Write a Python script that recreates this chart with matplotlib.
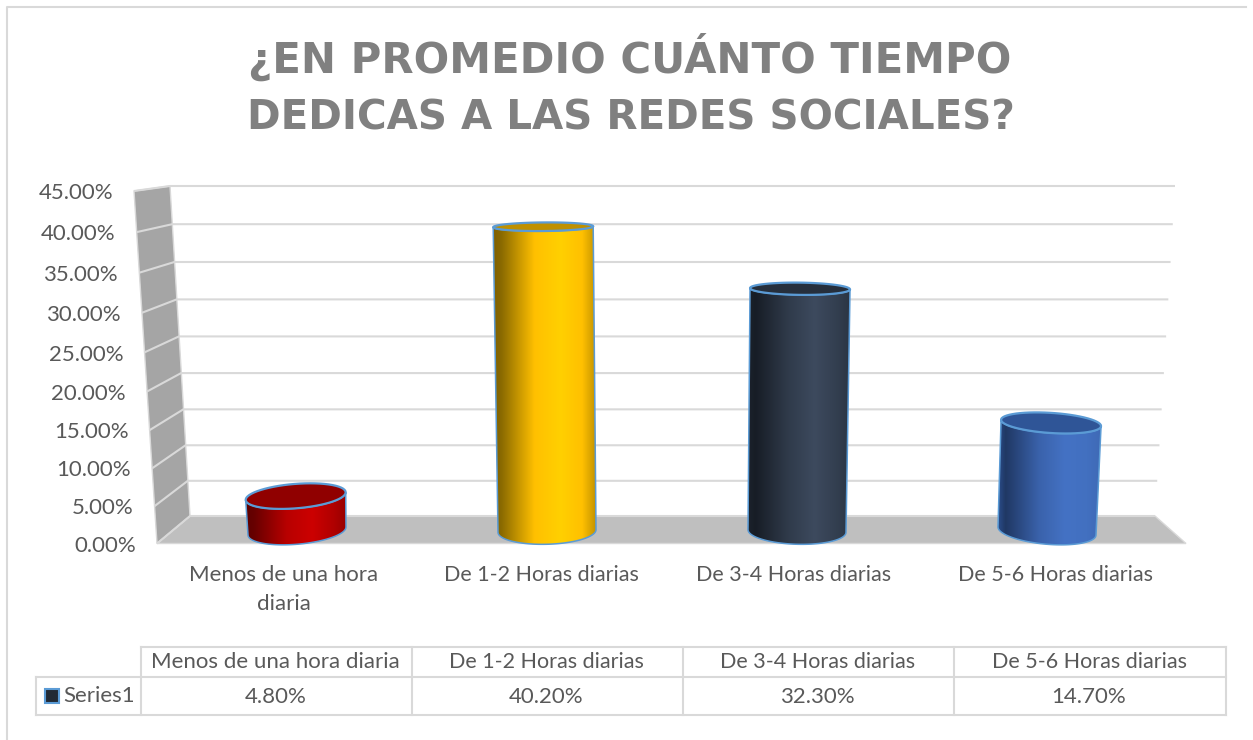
#!/usr/bin/env python

import numpy as np
import matplotlib
matplotlib.use('Agg')
import matplotlib.pyplot as plt
from matplotlib.colors import LinearSegmentedColormap
from matplotlib.patches import Polygon, PathPatch
from matplotlib.path import Path

plt.rcParams['font.family'] = ['Lato', 'DejaVu Sans']

categories = ['Menos de una hora diaria', 'De 1-2 Horas diarias', 'De 3-4 Horas diarias', 'De 5-6 Horas diarias']
axis_labels = ['Menos de una hora\ndiaria', 'De 1-2 Horas diarias', 'De 3-4 Horas diarias', 'De 5-6 Horas diarias']
values = [4.8, 40.2, 32.3, 14.7]
ticks = [0, 5, 10, 15, 20, 25, 30, 35, 40, 45]
title_lines = ['¿EN PROMEDIO CUÁNTO TIEMPO', 'DEDICAS A LAS REDES SOCIALES?']

stops = [0, 0.08, 0.4, 0.65, 0.86, 1]
bar_colors = [
    ['#5e0000', '#680000', '#b80000', '#cc0000', '#b00000', '#940000'],
    ['#7f6000', '#8a6a00', '#ffc000', '#ffd000', '#ffc000', '#bf9000'],
    ['#1c232e', '#171d26', '#303b4b', '#3d4a5e', '#333f50', '#2a3443'],
    ['#2c5090', '#203864', '#3a62ab', '#4472c4', '#4270c0', '#3f69b5'],
]
lid_colors = ['#900000', '#bf9000', '#262f3c', '#2f5597']
EDGE = '#5b9bd5'
GRID = '#d9d9d9'
TXT = '#595959'
FS = 16
FS_CAT = [16, 15.5, 15.5, 15.5]

fig = plt.figure(figsize=(12.53, 7.40), dpi=100)
ax = fig.add_axes([0, 0, 1, 1])
ax.set_xlim(0, 1253)
ax.set_ylim(740, 0)
ax.axis('off')


# perspective scale, value -> pixel row
def persp(v, y0, y45, c=0.05):
    t = np.asarray(v) / 45.0
    return y0 - (y0 - y45) * t * (1 - c) / (1 - c * t)


def y_back(v):
    return persp(v, 516, 186, 0.045)


def y_front(v):
    return persp(v, 543.5, 191, 0.054)


def y_mid(v):
    return persp(v, 531, 188.5, 0.05)


def x_wall_front(v):
    return 157 - 23 * np.asarray(v) / 45.0


def x_wall_back(v):
    return 190 - 20 * np.asarray(v) / 45.0


def x_right(v):
    return 1155 + 20 * np.asarray(v) / 45.0


def x_cat(i):
    return 297 + 250 * i


def half_h(y):
    return 4.3 + 0.0295 * (y - 227)


def ellipse(cx, cy, a, start, stop, n=60):
    t = np.linspace(start, stop, n)
    b = half_h(cy)
    s = 0.00022 * (cx - 672) * b / 13.5
    return np.column_stack([cx + a * np.cos(t), cy + b * np.sin(t) + s * a * np.cos(t)])


# floor and side wall
ax.add_patch(Polygon([(x_wall_front(0), y_front(0)), (1186, y_front(0)), (x_right(0), y_back(0)), (x_wall_back(0), y_back(0))],
                     fc='#bfbfbf', ec='#d9d9d9', lw=1, zorder=1))
ax.add_patch(Polygon([(x_wall_front(0), y_front(0)), (x_wall_front(45), y_front(45)), (x_wall_back(45), y_back(45)), (x_wall_back(0), y_back(0))],
                     fc='#a5a5a5', ec='#d9d9d9', lw=1, zorder=1))

for v in ticks:
    ax.plot([x_wall_front(v), x_wall_back(v), x_right(v)], [y_front(v), y_back(v), y_back(v)],
            color=GRID, lw=1.5, zorder=2, solid_capstyle='butt')
    ax.text(x_wall_front(v) - 21, y_front(v) + 2, f'{v:.2f}%', ha='right', va='center', fontsize=FS, color=TXT)

# cylinders
for i, v in enumerate(values):
    xb = x_cat(i)
    top_y = float(y_mid(v))
    xt = xb + 1e-4 * (531 - top_y) * (xb - 672)
    body = np.vstack([ellipse(xt, top_y, 50, np.pi, 0), ellipse(xb, 531, 49, 0, np.pi)])
    cmap = LinearSegmentedColormap.from_list(f'b{i}', list(zip(stops, bar_colors[i])))
    grad = np.linspace(0, 1, 256).reshape(1, -1)
    im = ax.imshow(grad, cmap=cmap, extent=[min(xt, xb) - 50, max(xt, xb) + 50, 545, top_y - 15],
                   aspect='auto', zorder=4)
    clip = PathPatch(Path(body), transform=ax.transData, fc='none', ec='none')
    ax.add_patch(clip)
    im.set_clip_path(clip)
    ax.add_patch(Polygon(body, closed=True, fc='none', ec=EDGE, lw=1.1, zorder=5))
    ax.add_patch(Polygon(ellipse(xt, top_y, 50, 0, 2 * np.pi), closed=True, fc=lid_colors[i], ec=EDGE, lw=1.6, zorder=6))

# imshow resets limits
ax.set_xlim(0, 1253)
ax.set_ylim(740, 0)

# outer frame
ax.plot([7, 7, 1246], [740, 7, 7], color=GRID, lw=1.5)

# title
ax.text(629.5, 73, title_lines[0], ha='center', va='baseline', fontsize=30.2, fontweight='bold', color='#808080', family='DejaVu Sans')
ax.text(630.5, 130, title_lines[1], ha='center', va='baseline', fontsize=29.1, fontweight='bold', color='#808080', family='DejaVu Sans')

# category labels
label_x = [284, 541, 794, 1056]
for lx, lab, fs in zip(label_x, axis_labels, FS_CAT):
    first, _, second = lab.partition('\n')
    ax.text(lx, 575, first, ha='center', va='center', fontsize=fs, color=TXT)
    if second:
        ax.text(lx, 604, second, ha='center', va='center', fontsize=fs, color=TXT)

# data table
col_x = [141, 412, 683, 954, 1226]
row_y = [647, 677, 715]
for x in col_x:
    ax.plot([x, x], [row_y[0], row_y[2]], color=GRID, lw=1.5)
ax.plot([col_x[0], col_x[-1]], [row_y[0], row_y[0]], color=GRID, lw=1.5)
ax.plot([36, col_x[-1]], [row_y[1], row_y[1]], color=GRID, lw=1.5)
ax.plot([36, col_x[-1]], [row_y[2], row_y[2]], color=GRID, lw=1.5)
ax.plot([36, 36], [row_y[1], row_y[2]], color=GRID, lw=1.5)
for j in range(4):
    xc = (col_x[j] + col_x[j + 1]) / 2 - 1
    ax.text(xc, 662, categories[j], ha='center', va='center', fontsize=FS_CAT[j], color=TXT)
    ax.text(xc, 697, f'{values[j]:.2f}%', ha='center', va='center', fontsize=FS, color=TXT)
ax.text(63, 696, 'Series1', ha='left', va='center', fontsize=FS, color=TXT)
ax.add_patch(Polygon([(45, 689), (59, 689), (59, 703), (45, 703)], fc='#222a35', ec=EDGE, lw=1.5))

fig.savefig('out.png', dpi=100)
